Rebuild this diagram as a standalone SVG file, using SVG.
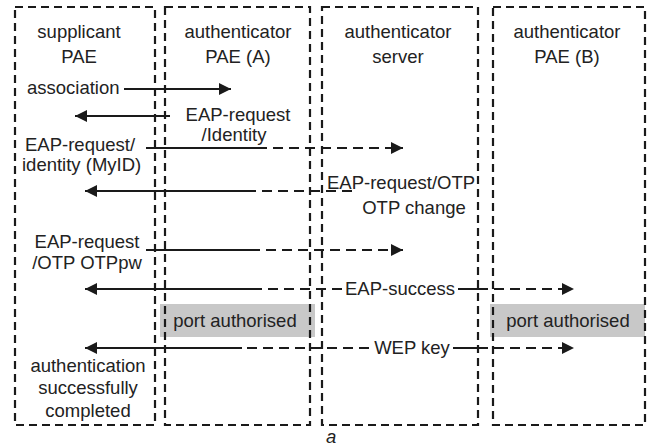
<svg xmlns="http://www.w3.org/2000/svg" width="653" height="448" viewBox="0 0 653 448">
<style>
.box{fill:none;stroke:#1a1a1a;stroke-width:2.2;stroke-dasharray:8 5}
.t{font-family:"Liberation Sans",Arial,sans-serif;font-size:18.5px;fill:#222}
.m{text-anchor:middle}
.s{stroke:#1a1a1a;stroke-width:2;fill:none}
.d{stroke:#1a1a1a;stroke-width:2;fill:none;stroke-dasharray:10 6}
.g{fill:#c8c8c8}
</style>
<defs>
<marker id="ah" markerUnits="userSpaceOnUse" markerWidth="14" markerHeight="14" refX="12" refY="6" orient="auto">
<path d="M0,0 L12,6 L0,12 Z" fill="#1a1a1a"/>
</marker>
</defs>
<rect width="653" height="448" fill="#fff"/>
<g id="highlights">
<rect class="g" x="160" y="304" width="155" height="33"/>
<rect class="g" x="490" y="304" width="155" height="33"/>
</g>
<g id="supplicant">
<rect class="box" x="15" y="7" width="140" height="418"/>
<text class="t m" x="79" y="38">supplicant</text>
<text class="t m" x="79" y="63">PAE</text>
</g>
<g id="authA">
<rect class="box" x="165" y="7" width="145" height="418"/>
<text class="t m" x="238" y="38">authenticator</text>
<text class="t m" x="238" y="63">PAE (A)</text>
</g>
<g id="server">
<rect class="box" x="322" y="7" width="156" height="418"/>
<text class="t m" x="398" y="38">authenticator</text>
<text class="t m" x="398" y="63">server</text>
</g>
<g id="authB">
<rect class="box" x="493" y="7" width="152" height="418"/>
<text class="t m" x="567" y="38">authenticator</text>
<text class="t m" x="567" y="63">PAE (B)</text>
</g>
<g id="connectors">
<line class="s" x1="124" y1="89" x2="231" y2="89" marker-end="url(#ah)"/>
<line class="s" x1="170" y1="116" x2="75" y2="116" marker-end="url(#ah)"/>
<line class="s" x1="146" y1="148" x2="257" y2="148"/>
<line class="d" x1="257" y1="148" x2="403" y2="148" marker-end="url(#ah)"/>
<line class="d" x1="352" y1="191" x2="247" y2="191"/>
<line class="s" x1="247" y1="191" x2="85" y2="191" marker-end="url(#ah)"/>
<line class="s" x1="146" y1="250" x2="250" y2="250"/>
<line class="d" x1="250" y1="250" x2="403" y2="250" marker-end="url(#ah)"/>
<line class="d" x1="342" y1="289" x2="257" y2="289"/>
<line class="s" x1="257" y1="289" x2="85" y2="289" marker-end="url(#ah)"/>
<line class="s" x1="458" y1="289" x2="478" y2="289"/>
<line class="d" x1="478" y1="289" x2="574" y2="289" marker-end="url(#ah)"/>
<line class="d" x1="369" y1="348" x2="242" y2="348"/>
<line class="s" x1="242" y1="348" x2="85" y2="348" marker-end="url(#ah)"/>
<line class="s" x1="453" y1="348" x2="478" y2="348"/>
<line class="d" x1="478" y1="348" x2="574" y2="348" marker-end="url(#ah)"/>
</g>
<g id="labels">
<text class="t" x="27" y="94">association</text>
<text class="t m" x="238" y="121">EAP-request</text>
<text class="t m" x="234" y="141">/Identity</text>
<text class="t" x="25" y="151">EAP-request/</text>
<text class="t" x="22" y="171">identity (MyID)</text>
<text class="t" x="327" y="189">EAP-request/OTP</text>
<text class="t m" x="414" y="214">OTP change</text>
<text class="t m" x="87" y="248">EAP-request</text>
<text class="t m" x="87" y="269">/OTP OTPpw</text>
<text class="t m" x="400" y="295">EAP-success</text>
<text class="t m" x="235" y="327">port authorised</text>
<text class="t m" x="568" y="327">port authorised</text>
<text class="t m" x="412" y="354">WEP key</text>
<text class="t m" x="88" y="372">authentication</text>
<text class="t m" x="88" y="394">successfully</text>
<text class="t m" x="88" y="417">completed</text>
<text class="t" x="326" y="443" font-style="italic">a</text>
</g>
</svg>
